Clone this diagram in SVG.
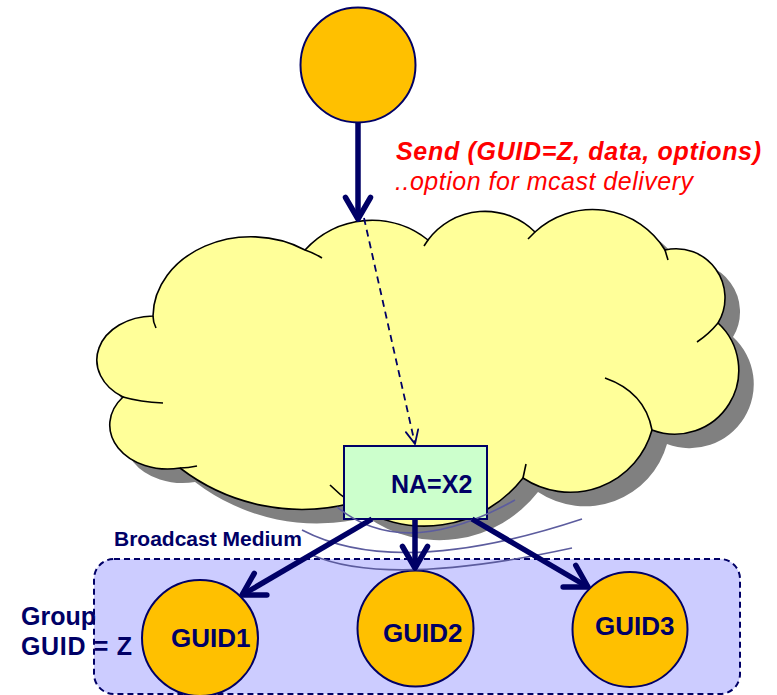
<svg xmlns="http://www.w3.org/2000/svg" width="777" height="695" viewBox="0 0 777 695">
<style>
.lbl{font-family:"Liberation Sans",Arial,sans-serif;font-weight:bold;fill:#000066}
.red{font-family:"Liberation Sans",Arial,sans-serif;font-style:italic;fill:#FF0000}
.node{fill:#FFC000;stroke:#000066;stroke-width:2}
.thick{stroke:#000066;stroke-width:5.5;fill:none;marker-end:url(#mThick)}
.tail{fill:none;stroke:#000;stroke-width:1.6}
.bc{fill:none;stroke:#5C5C9E;stroke-width:1.6}
</style>
<defs>
<path id="cloud" d="M153,316 A98,80 0 0 1 305,250 A90,90 0 0 1 428,240 A71,71 0 0 1 535,232 A85,85 0 0 1 665,250 A49,49 0 0 1 718,323 A64,64 0 0 1 652,430 A85,85 0 0 1 523,478 A125,125 0 0 1 352,503 A200,200 0 0 1 180,468 A58,44 0 0 1 123,397 A57,44 0 0 1 153,316 Z"/>
<marker id="mThick" markerUnits="userSpaceOnUse" markerWidth="60" markerHeight="60" viewBox="-30 -30 60 60" refX="0" refY="0" orient="auto" overflow="visible">
<path d="M-21.5,-12.5 L0,0 L-21.5,12.5" fill="none" stroke="#000066" stroke-width="5.5" stroke-linecap="round" stroke-linejoin="round"/>
</marker>
<marker id="mThin" markerUnits="userSpaceOnUse" markerWidth="40" markerHeight="40" viewBox="-20 -20 40 40" refX="0" refY="0" orient="auto" overflow="visible">
<path d="M-13.6,-6.3 L0,0 L-13.6,6.3" fill="none" stroke="#000066" stroke-width="1.8" stroke-linecap="round" stroke-linejoin="round"/>
</marker>
</defs>

<g id="network-cloud">
<use href="#cloud" transform="translate(15,14)" fill="#808080"/>
<use href="#cloud" fill="#FFFF99" stroke="#000" stroke-width="1.6"/>
<path class="tail" d="M153,316 Q153,322 156,328"/>
<path class="tail" d="M305,250 Q314,253 322,258"/>
<path class="tail" d="M428,240 L424,246"/>
<path class="tail" d="M535,232 L528,239"/>
<path class="tail" d="M665,250 L668,260"/>
<path class="tail" d="M718,323 Q709,334 697,342"/>
<path class="tail" d="M605,378 Q645,392 652,430"/>
<path class="tail" d="M523,478 L526,464"/>
<path class="tail" d="M352,503 A125,125 0 0 1 330,485"/>
<path class="tail" d="M197,466 Q188,468 180,468"/>
<path class="tail" d="M163,403 Q140,402 123,397"/>
</g>

<g id="group-area">
<rect x="94" y="559" width="646" height="135" rx="20" fill="#CCCCFF" stroke="#000066" stroke-width="2" stroke-dasharray="6 4"/>
</g>

<g id="sender">
<circle class="node" cx="358" cy="65" r="57.5"/>
</g>

<g id="guid1">
<circle class="node" cx="200" cy="638" r="58"/>
<text class="lbl" x="171" y="647" font-size="26">GUID1</text>
</g>
<g id="guid2">
<circle class="node" cx="415.5" cy="628.5" r="58"/>
<text class="lbl" x="383" y="642" font-size="26">GUID2</text>
</g>
<g id="guid3">
<circle class="node" cx="630" cy="629.5" r="57.5"/>
<text class="lbl" x="595" y="635" font-size="26">GUID3</text>
</g>

<g id="na-x2">
<rect x="344" y="446" width="143" height="73" fill="#CCFFCC" stroke="#000066" stroke-width="2"/>
<text class="lbl" x="391" y="493" font-size="25">NA=X2</text>
</g>

<g id="broadcast-medium">
<path class="bc" d="M302,530 Q398,580 582,519"/>
<path class="bc" d="M312,555 Q388,588 572,548"/>
<path class="bc" d="M337,507 Q404,562 515,500"/>
<text class="lbl" x="114" y="546" font-size="21">Broadcast Medium</text>
</g>

<g id="connectors">
<path class="thick" d="M358,123 L358,219"/>
<path d="M364,218 L415,444" fill="none" stroke="#000066" stroke-width="1.8" stroke-dasharray="7 5" marker-end="url(#mThin)"/>
<path class="thick" d="M372,519 L242,595"/>
<path class="thick" d="M415,519 L415,568"/>
<path class="thick" d="M472,519 L588,587"/>
</g>

<g id="labels">
<text class="red" x="396" y="160" font-size="25" font-weight="bold" textLength="365">Send (GUID=Z, data, options)</text>
<text class="red" x="395" y="190" font-size="25" textLength="298">..option for mcast delivery</text>
<text class="lbl" x="21" y="625" font-size="25">Group</text>
<text class="lbl" x="21" y="655" font-size="25" textLength="111">GUID = Z</text>
</g>
</svg>
